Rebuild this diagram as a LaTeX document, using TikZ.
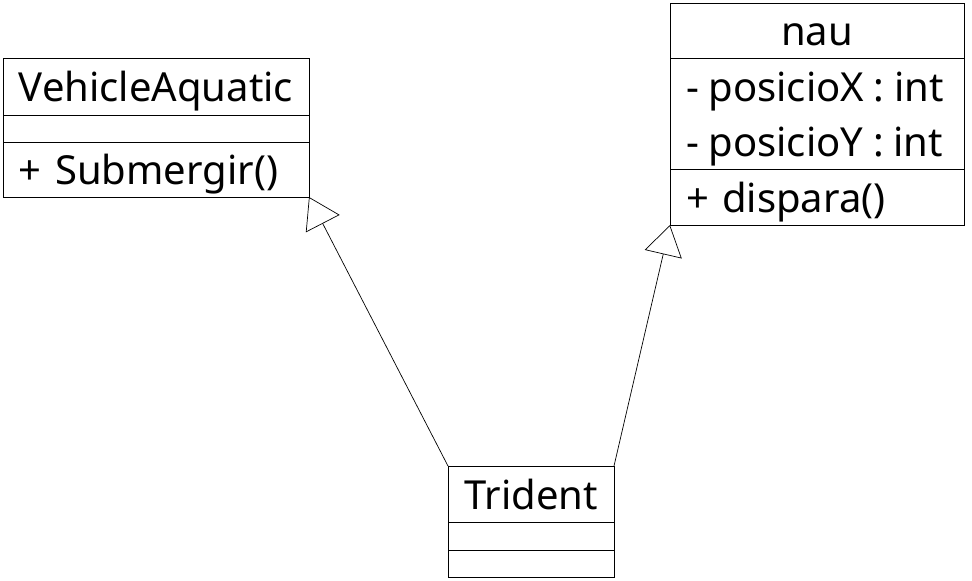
\documentclass[tikz,border=0pt]{standalone}
\usepackage{fontspec}
\setmainfont{Noto Sans}
\usetikzlibrary{positioning,arrows.meta}
\begin{document}
\begin{tikzpicture}[x=1pt,y=-1pt,
  umlpart/.style={draw,line width=1pt,outer sep=0pt,inner ysep=0pt,inner xsep=16pt,
    font=\fontsize{40}{55}\selectfont,text height=30pt,text depth=0pt},
  umltitle/.style={umlpart,align=center,inner xsep=2pt},
  umlbody/.style={umlpart,align=left},
  umlempty/.style={umlpart,inner xsep=0pt,text height=0pt},
  inherit/.style={-{Triangle[open,length=30pt,width=38pt]},line width=0.7pt}]
  \useasboundingbox (0,0) rectangle (972,581);
  % VehicleAquatic
  \node[umltitle,anchor=north west,minimum width=306pt,minimum height=57pt] (vehicleName) at (3,58) {VehicleAquatic};
  \node[umlempty,below=0pt of vehicleName,minimum width=306pt,minimum height=27pt] (vehicleAttr) {};
  \node[umlbody,below=0pt of vehicleAttr,text width=274pt,minimum height=55pt] (vehicleOps) {\mbox{+ Submergir()}};
  % nau
  \node[umltitle,anchor=north west,minimum width=294pt,minimum height=55pt] (nauName) at (670,3) {nau};
  \node[umlbody,below=0pt of nauName,text width=262pt,minimum height=111pt,text depth=55pt] (nauAttr)
    {\spaceskip=9.8pt\mbox{- posicioX : int}\\\mbox{- posicioY : int}};
  \node[umlbody,below=0pt of nauAttr,text width=262pt,minimum height=56pt] (nauOps) {\mbox{+ dispara()}};
  % Trident
  \node[umltitle,anchor=north west,minimum width=166pt,minimum height=56pt] (tridentName) at (448,466) {Trident};
  \node[umlempty,below=0pt of tridentName,minimum width=166pt,minimum height=28pt] (tridentAttr) {};
  \node[umlempty,below=0pt of tridentAttr,minimum width=166pt,minimum height=27pt] (tridentOps) {};
  % herencia
  \draw[inherit] (tridentName.north west) -- (vehicleOps.south east);
  \draw[inherit] (tridentName.north east) -- (nauOps.south west);
\end{tikzpicture}
\end{document}
